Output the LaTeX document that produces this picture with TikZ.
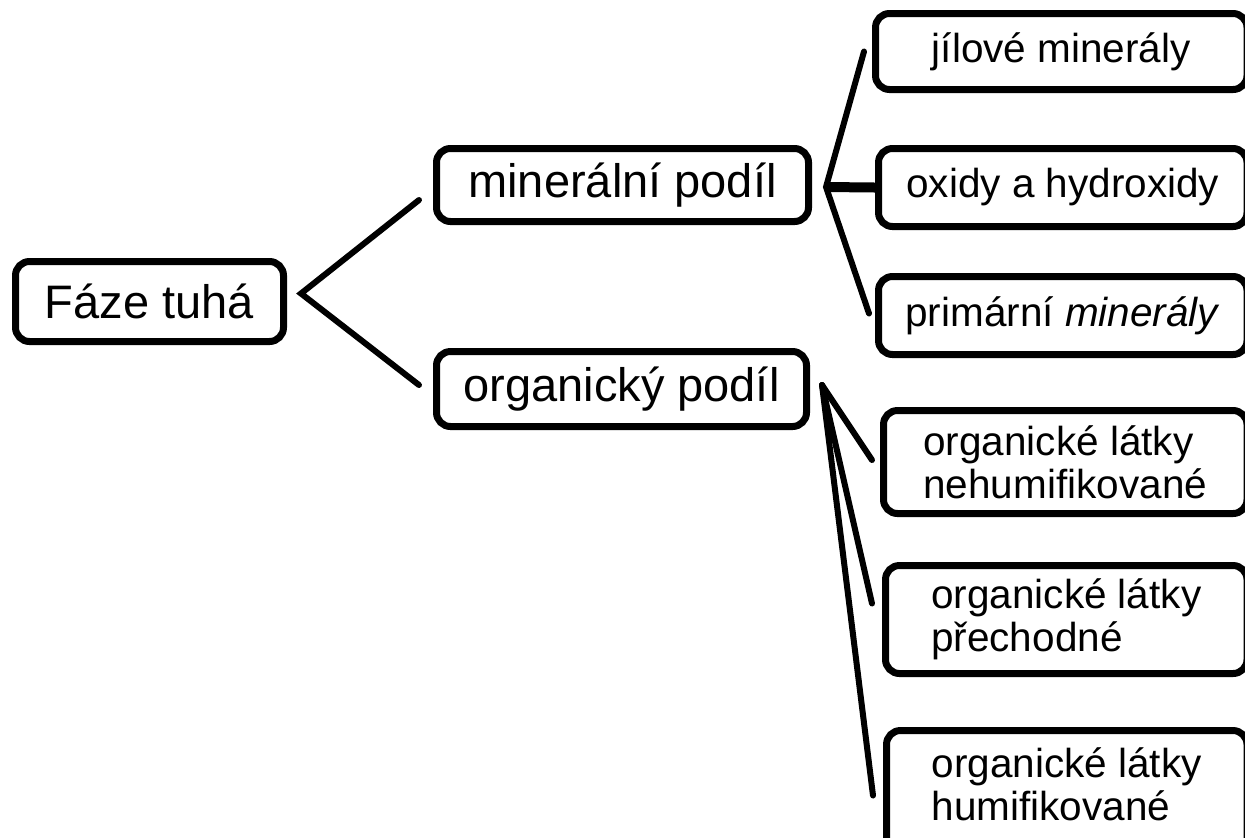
\documentclass[tikz,border=0pt]{standalone}
\usepackage{fontspec}
\setmainfont{Liberation Sans}

\begin{document}
\begin{tikzpicture}[x=0.5pt,y=-0.5pt,
  box/.style={draw,line width=3.5pt,rounded corners=7pt,inner sep=0pt,align=left},
  bigbox/.style={box,font=\fontsize{23.5}{26}\selectfont},
  smallbox/.style={box,font=\fontsize{20.25}{21.5}\selectfont},
  link/.style={line width=3pt,line cap=round}]
\useasboundingbox (0,0) rectangle (1245,837);

\node[bigbox,minimum width=134pt,minimum height=40pt] (faze) at (149.5,301.5) {Fáze tuhá};

\node[bigbox,minimum width=186pt,minimum height=36.5pt] (min) at (622.5,185) {minerální podíl};
\node[bigbox,minimum width=185pt,minimum height=37.5pt] (org) at (621.5,389) {organický podíl};

\node[smallbox,minimum width=185.75pt,minimum height=38pt] (jil) at (1061.25,51.5) {jílové minerály};
\node[smallbox,minimum width=184.25pt,minimum height=39pt] (oxi) at (1062.75,187.5) {oxidy a hydroxidy};
\node[smallbox,minimum width=184.25pt,minimum height=39pt] (pri) at (1062.75,315.5) {primární \textit{minerály}};

\node[smallbox,minimum width=181.75pt,minimum height=51.5pt] (neh) at (1065.25,462) {organické látky\\nehumifikované};
\node[smallbox,minimum width=180.75pt,minimum height=54pt] (pre) at (1066.25,619.5) {organické látky\\přechodné};
\node[smallbox,minimum width=180.25pt,minimum height=65pt,text depth=11pt] (hum) at (1066.75,795.5) {organické látky\\humifikované};

% levels 1 -> 2
\draw[link] ([xshift=-7pt,yshift=-7.5pt]min.west) -- ([xshift=7pt,yshift=4pt]faze.east)
  -- ([xshift=-7pt,yshift=2pt]org.west);

% mineral part
\draw[link] ([xshift=-4pt]jil.west) -- ([xshift=7pt,yshift=-1pt]min.east)
  -- ([xshift=-3pt,yshift=1pt]pri.west);
\draw[line width=5pt] ([xshift=7pt,yshift=-1pt]min.east) -- (oxi.west);

% organic part
\draw[link] ([xshift=6pt,yshift=2pt]org.east) -- ([xshift=-4pt,yshift=1pt]neh.west);
\draw[link] ([xshift=6pt,yshift=2pt]org.east) -- ([xshift=-5pt,yshift=8pt]pre.west);
\draw[link] ([xshift=6pt,yshift=2pt]org.east) -- ([xshift=-5pt]hum.west);
\end{tikzpicture}
\end{document}
